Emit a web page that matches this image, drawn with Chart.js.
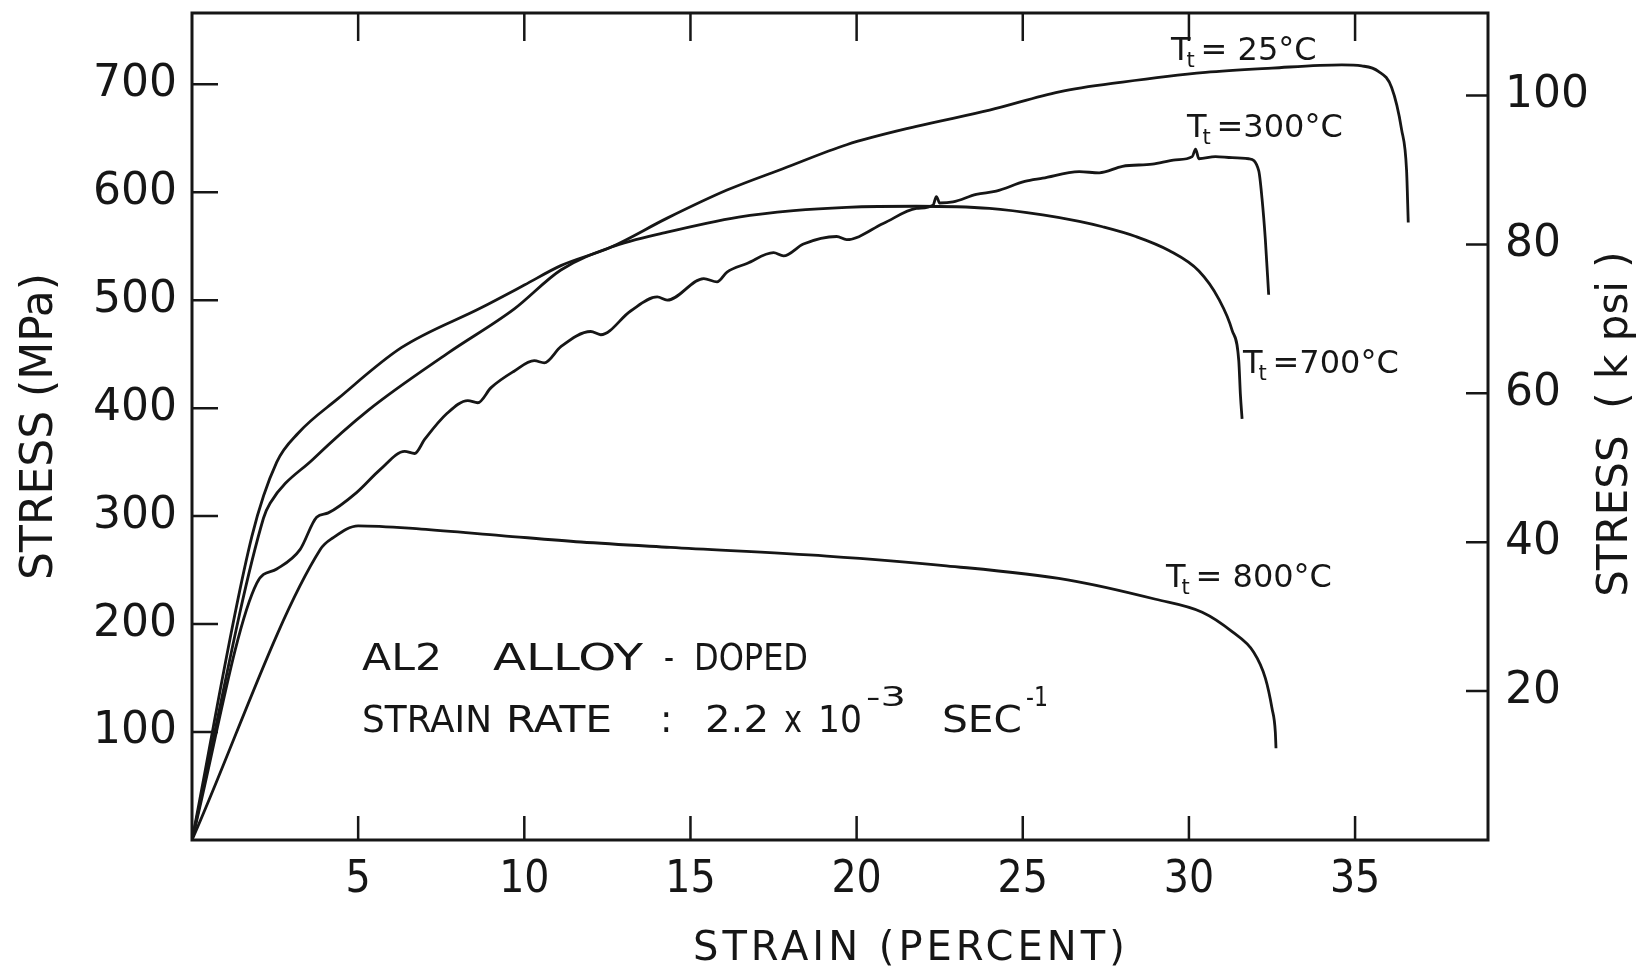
<!DOCTYPE html>
<html>
<head>
<meta charset="utf-8">
<title>AL2 alloy-doped: stress vs strain</title>
<script src="https://cdn.jsdelivr.net/npm/chart.js@4.4.1/dist/chart.umd.min.js"></script>
<style>
  html, body { margin: 0; padding: 0; background: #fff; }
  #wrap { width: 1640px; height: 970px; }
</style>
</head>
<body>
<div id="wrap"><canvas id="chart" width="1640" height="970"></canvas></div>
<script>
// Values: strain in percent, stress in MPa.
const strain25 = [0, 1.8, 2.55, 3.2, 4.4, 6.3, 8.7, 10.0, 11.1, 12.6, 14.3, 16.1, 17.8, 19.7, 21.8, 24.0, 26.1, 28.0, 30.5, 32.5, 34.6, 35.2, 35.7, 36.1, 36.4, 36.55, 36.6];
const stress25 = [0, 281, 350, 377, 409, 456, 493, 514, 532, 549, 576, 602, 622, 644, 661, 676, 693, 702, 711, 715, 718, 717, 712, 697, 658, 620, 572];

const strain300 = [0, 1.95, 2.55, 3.25, 3.75, 4.1, 4.96, 5.66, 6.4, 6.7, 7.0, 7.67, 8.3, 8.6, 9.0, 9.68, 10.3, 10.6, 11.1, 12.0, 12.3, 13.2, 14.0, 14.3, 15.4, 15.8, 16.1, 16.7, 17.5, 17.8, 18.4, 19.4, 19.7, 20.8, 21.8, 22.3, 22.4, 22.5, 22.9, 23.6, 24.2, 25.06, 25.6, 26.7, 27.3, 28.0, 28.9, 29.6, 30.1, 30.2, 30.3, 30.8, 31.3, 31.8, 32.1, 32.2, 32.3, 32.4];
const stress300 = [0, 238, 251, 269, 299, 303, 322, 343, 360, 358, 371, 395, 407, 405, 419, 434, 444, 442, 457, 471, 468, 490, 503, 500, 520, 517, 526, 534, 544, 541, 552, 559, 556, 571, 585, 588, 596, 590, 591, 598, 601, 610, 613, 619, 618, 624, 626, 630, 633, 640, 631, 633, 632, 631, 620, 594, 556, 505];

const strain700 = [0, 2.15, 2.35, 3.65, 5.3, 7.7, 9.7, 11.1, 12.6, 14.3, 16.45, 18.1, 19.7, 21.8, 24.0, 25.6, 26.7, 27.4, 28.4, 29.4, 30.3, 30.9, 31.3, 31.5, 31.55, 31.6];
const stress700 = [0, 298, 312, 353, 398, 451, 492, 528, 549, 563, 577, 583, 586, 587, 585, 579, 573, 568, 559, 546, 527, 501, 472, 444, 412, 390];

const strain800 = [0, 3.86, 4.25, 5.0, 6.9, 9.3, 11.7, 14.4, 19.1, 22.7, 26.35, 29.0, 30.4, 31.3, 31.95, 32.3, 32.5, 32.6, 32.62];
const stress800 = [0, 269, 280, 291, 288, 282, 276, 271, 263, 254, 241, 223, 211, 193, 174, 150, 122, 100, 85];

const xMax = 39;          // percent strain at the right frame
const yMax = 766;         // MPa at the top frame
const MPA_PER_KSI = 6.895;

const INK = '#161616';
const SANS = "'DejaVu Sans', sans-serif";
const COND = "'DejaVu Sans Condensed', 'DejaVu Sans', sans-serif";

const pts = (xs, ys) => xs.map((x, i) => ({ x, y: ys[i] }));
const hideZero = (v) => (v === 0 ? '' : v);

function curve(label, xs, ys) {
  return {
    label,
    data: pts(xs, ys),
    borderColor: INK,
    borderWidth: 2.8,
    pointRadius: 0,
    cubicInterpolationMode: 'monotone',
    fill: false,
  };
}

// the lettering of the original is uneven, so each word is squeezed to its own width
function fitText(ctx, text, x, y, w) {
  const m = ctx.measureText(text).width;
  ctx.save();
  ctx.translate(x, y);
  ctx.scale(w / m, 1);
  ctx.fillText(text, 0, 0);
  ctx.restore();
}

// "T" with subscript "t", then the rest of the label
function tempLabel(ctx, x, y, rest) {
  ctx.font = '32px ' + SANS;
  ctx.fillText('T', x, y);
  const w = ctx.measureText('T').width;
  ctx.font = '21px ' + SANS;
  ctx.fillText('t', x + w - 4, y + 7);
  ctx.font = '32px ' + SANS;
  ctx.fillText(rest, x + w + 10, y);
}

// frame, inward tick marks and the loose text of the figure
const decorations = {
  id: 'decorations',
  afterDatasetsDraw(chart) {
    const { ctx, chartArea: a, scales } = chart;
    ctx.save();
    ctx.strokeStyle = INK;
    ctx.lineWidth = 3;
    ctx.strokeRect(a.left, a.top, a.right - a.left, a.bottom - a.top);

    ctx.lineWidth = 2.5;
    ctx.beginPath();
    scales.x.ticks.forEach((t) => {
      if (!t.value) return;
      const px = scales.x.getPixelForValue(t.value);
      ctx.moveTo(px, a.bottom); ctx.lineTo(px, a.bottom - 24);
      ctx.moveTo(px, a.top); ctx.lineTo(px, a.top + 28);
    });
    scales.y.ticks.forEach((t) => {
      if (!t.value) return;
      const py = scales.y.getPixelForValue(t.value);
      ctx.moveTo(a.left, py); ctx.lineTo(a.left + 26, py);
    });
    scales.y2.ticks.forEach((t) => {
      if (!t.value) return;
      const py = scales.y2.getPixelForValue(t.value);
      ctx.moveTo(a.right, py); ctx.lineTo(a.right - 22, py);
    });
    ctx.stroke();

    ctx.fillStyle = INK;
    ctx.textBaseline = 'alphabetic';
    ctx.textAlign = 'left';

    // curve labels
    tempLabel(ctx, 1171, 60, '= 25°C');
    tempLabel(ctx, 1187, 137, '=300°C');
    tempLabel(ctx, 1243, 373, '=700°C');
    tempLabel(ctx, 1166, 587, '= 800°C');

    // specimen note
    ctx.font = '37px ' + SANS;
    fitText(ctx, 'AL2', 362, 670, 80);
    fitText(ctx, 'ALLOY', 493, 670, 150);
    fitText(ctx, '-', 664, 670, 10);
    fitText(ctx, 'DOPED', 694, 670, 114);
    fitText(ctx, 'STRAIN', 362, 732, 130);
    fitText(ctx, 'RATE', 506, 732, 106);
    ctx.fillText(':', 660, 732);
    fitText(ctx, '2.2', 705, 732, 64);
    fitText(ctx, 'x', 784, 732, 18);
    fitText(ctx, '10', 818, 732, 44);
    fitText(ctx, 'SEC', 942, 732, 80);
    ctx.font = '26px ' + SANS;
    fitText(ctx, '-3', 866, 706, 40);
    fitText(ctx, '-1', 1026, 706, 22);

    // x axis title sits right of centre in the original
    ctx.font = '40px ' + SANS;
    ctx.letterSpacing = '4px';
    ctx.fillText('STRAIN (PERCENT)', 693, 960);
    ctx.letterSpacing = '0px';

    // right axis title reads bottom to top
    ctx.translate(1616, 424);
    ctx.rotate(-Math.PI / 2);
    ctx.textAlign = 'center';
    ctx.textBaseline = 'middle';
    ctx.font = '42px ' + SANS;
    ctx.fillText('STRESS  ( k psi )', 0, 0);
    ctx.restore();
  },
};

// keep the frame where the original has it: no extra room for half tick labels
const noPad = (s) => { s.paddingTop = 0; s.paddingBottom = 0; };

new Chart(document.getElementById('chart'), {
  type: 'line',
  data: {
    datasets: [
      curve('Tt = 25°C', strain25, stress25),
      curve('Tt = 300°C', strain300, stress300),
      curve('Tt = 700°C', strain700, stress700),
      curve('Tt = 800°C', strain800, stress800),
    ],
  },
  options: {
    responsive: false,
    animation: false,
    devicePixelRatio: 1,
    layout: { padding: { top: 13, left: 0, right: 0, bottom: 0 }, autoPadding: false },
    plugins: { legend: { display: false }, tooltip: { enabled: false } },
    scales: {
      x: {
        type: 'linear',
        min: 0,
        max: xMax,
        grid: { display: false },
        border: { display: false },
        ticks: {
          stepSize: 5,
          includeBounds: false,
          maxRotation: 0,
          autoSkip: false,
          padding: 6,
          color: INK,
          font: { family: COND, size: 44 },
          callback: hideZero,
        },
        afterFit: (s) => { s.height = 130; s.paddingLeft = 0; s.paddingRight = 0; },
      },
      y: {
        position: 'left',
        min: 0,
        max: yMax,
        grid: { display: false },
        border: { display: false },
        ticks: {
          stepSize: 100,
          includeBounds: false,
          padding: 7,
          color: INK,
          font: { family: SANS, size: 44 },
          callback: hideZero,
        },
        title: {
          display: true,
          text: 'STRESS (MPa)',
          color: INK,
          font: { family: SANS, size: 44 },
          padding: { top: 14, bottom: 0 },
        },
        afterFit: (s) => { s.width = 192; noPad(s); },
      },
      y2: {
        position: 'right',
        min: 0,
        max: yMax / MPA_PER_KSI,
        grid: { display: false },
        border: { display: false },
        ticks: {
          stepSize: 20,
          includeBounds: false,
          padding: 9,
          color: INK,
          font: { family: SANS, size: 44 },
          callback: hideZero,
        },
        afterFit: (s) => { s.width = 152; noPad(s); },
      },
    },
  },
  plugins: [decorations],
});
</script>
</body>
</html>
